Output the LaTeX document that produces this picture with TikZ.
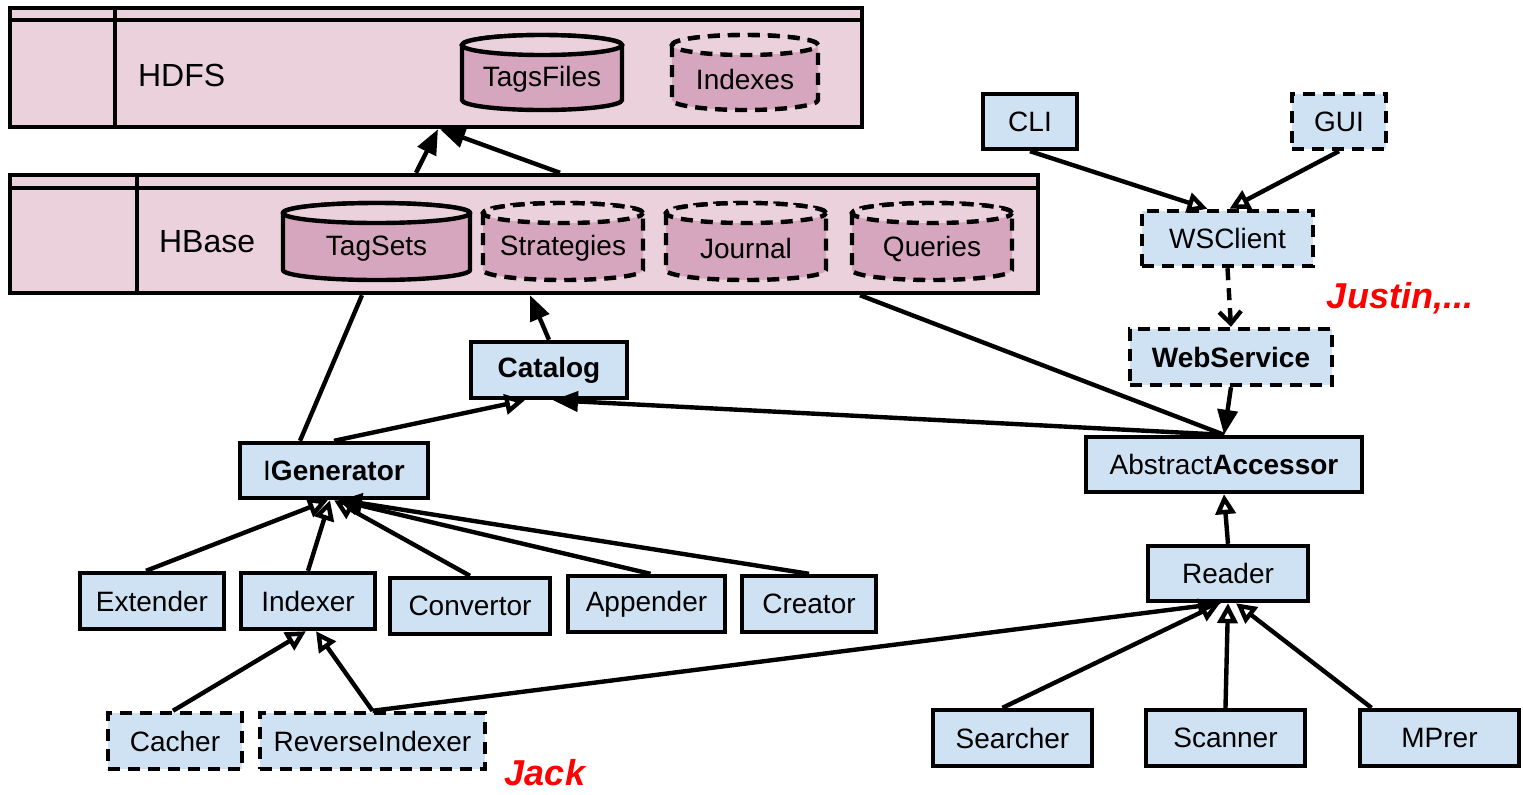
\documentclass[tikz,border=0pt]{standalone}
\usepackage{fontspec}
\setmainfont{Liberation Sans}
\usetikzlibrary{arrows.meta}

\definecolor{layerpink}{HTML}{EAD1DC}
\definecolor{storepink}{HTML}{D5A6BD}
\definecolor{clsblue}{HTML}{CFE2F3}

\tikzset{
  cls/.style={draw, line width=2.2pt, fill=clsblue, inner sep=0pt, font=\fontsize{14}{16}\selectfont},
  dsh/.style={dash pattern=on 6pt off 4pt},
  clsdash/.style={cls, dsh},
  layer/.style={draw, line width=2.2pt, fill=layerpink, inner sep=0pt},
  store/.style={draw, line width=2.2pt, fill=storepink},
  conn/.style={line width=2.2pt},
  inherit/.style={conn, -{Triangle[open, length=10pt, width=10pt]}},
  uses/.style={conn, -{Triangle[length=12.5pt, width=10pt]}},
  note/.style={text=red, font=\fontsize{18}{20}\selectfont\bfseries\itshape}
}

\begin{document}
\begin{tikzpicture}[x=0.5pt, y=-0.5pt]
\useasboundingbox (0,0) rectangle (1523,794);

% storage layers
\node[layer, minimum width=426pt, minimum height=59.5pt] (hdfs) at (436,67.5) {};
\node[layer, minimum width=514pt, minimum height=59pt] (hbase) at (524,234) {};
\draw[conn] ([yshift=-7pt]hdfs.north west) -- ([yshift=-7pt]hdfs.north east);
\draw[conn] ([xshift=53.5pt]hdfs.north west) -- ([xshift=53.5pt]hdfs.south west);
\draw[conn] ([yshift=-7.5pt]hbase.north west) -- ([yshift=-7.5pt]hbase.north east);
\draw[conn] ([xshift=64.5pt]hbase.north west) -- ([xshift=64.5pt]hbase.south west);
\node[anchor=west, font=\fontsize{16}{18}\selectfont] (hdfslbl) at (131,75) {HDFS};
\node[anchor=west, font=\fontsize{16}{18}\selectfont] (hbaselbl) at (152,242) {HBase};

% tables and files
\foreach \nm/\xa/\xb/\ya/\yb/\ds/\txt in {tagsfiles/462/622/35/110/solid/TagsFiles,
    indexes/672/818/35/110/dsh/Indexes, tagsets/283/470/203/280/solid/TagSets,
    strategies/483/643/203/280/dsh/Strategies, journal/666/826/203/280/dsh/Journal,
    queries/852/1012/203/280/dsh/Queries} {
  \pgfmathsetmacro\rx{(\xb-\xa)/4}
  \pgfmathsetmacro\cx{(\xa+\xb)/2}
  \pgfmathsetmacro\cy{(\ya+\yb)/2+7}
  \draw[store, \ds] (\xa,\ya+10) -- (\xa,\yb-10)
    arc[start angle=180, end angle=360, x radius=\rx pt, y radius=5pt]
    -- (\xb,\ya+10)
    arc[start angle=0, end angle=180, x radius=\rx pt, y radius=5pt] -- cycle;
  \draw[store, fill=layerpink, \ds] (\cx,\ya+10) ellipse[x radius=\rx pt, y radius=5pt];
  \node[font=\fontsize{14}{16}\selectfont] (\nm) at (\cx,\cy) {\txt};
}

% classes
\node[cls, minimum width=78pt, minimum height=28pt] (catalog) at (549,370) {\textbf{Catalog}};
\node[cls, minimum width=94pt, minimum height=27.5pt] (igen) at (334,470.5) {I\textbf{Generator}};
\node[cls, minimum width=138pt, minimum height=27.5pt] (accessor) at (1224,464.5) {Abstract\textbf{Accessor}};
\node[cls, minimum width=47pt, minimum height=27.5pt] (cli) at (1030,121.5) {CLI};
\node[clsdash, minimum width=47pt, minimum height=27.5pt] (gui) at (1339,121.5) {GUI};
\node[clsdash, minimum width=85.5pt, minimum height=27.5pt] (wsclient) at (1227.5,238.5) {WSClient};
\node[clsdash, minimum width=101pt, minimum height=28pt] (websvc) at (1231,357) {\textbf{WebService}};
\node[cls, minimum width=80pt, minimum height=27.5pt] (reader) at (1228,573.5) {Reader};
\node[cls, minimum width=79.5pt, minimum height=28pt] (searcher) at (1012.5,738) {Searcher};
\node[cls, minimum width=79.5pt, minimum height=28pt] (scanner) at (1225.5,738) {Scanner};
\node[cls, minimum width=79.5pt, minimum height=28pt] (mprer) at (1439.5,738) {MPrer};
\node[cls, minimum width=72pt, minimum height=28pt] (extender) at (152,601) {Extender};
\node[cls, minimum width=67pt, minimum height=28pt] (indexer) at (308,601) {Indexer};
\node[cls, minimum width=80pt, minimum height=28pt] (convertor) at (470,606) {Convertor};
\node[cls, minimum width=78.5pt, minimum height=28pt] (appender) at (646.5,604) {Appender};
\node[cls, minimum width=67pt, minimum height=28pt] (creator) at (809,604) {Creator};
\node[clsdash, minimum width=67pt, minimum height=28pt] (cacher) at (175,741) {Cacher};
\node[clsdash, minimum width=112.5pt, minimum height=28pt] (revidx) at (372.5,741) {ReverseIndexer};

% who works on what
\node[note] (jack) at (545,773) {Jack};
\node[note] (justin) at (1400,298) {Justin,...};

% connectors
\draw[uses] ([xshift=-54pt]hbase.north) -- ([xshift=1pt]hdfs.south);
\draw[uses] ([xshift=18pt]hbase.north) -- ([xshift=2pt]hdfs.south);
\draw[uses] (catalog.north) -- ([xshift=3pt]hbase.south);
\draw[conn] ([xshift=-17pt]igen.north) -- ([xshift=-81pt]hbase.south);
\draw[conn] (accessor.north) -- ([xshift=168pt]hbase.south);
\draw[inherit] (igen.north) -- ([xshift=-12pt]catalog.south);
\draw[uses] (accessor.north) -- ([xshift=2pt]catalog.south);

\draw[inherit] (cli.south) -- ([xshift=-10pt]wsclient.north);
\draw[inherit] (gui.south) -- ([xshift=1pt]wsclient.north);
\draw[conn, dsh, -{Straight Barb[length=6pt, width=11pt]}] (wsclient.south) -- (websvc.north);
\draw[uses] (websvc.south) -- (accessor.north);
\draw[inherit] (reader.north) -- (accessor.south);

\draw[inherit] ([xshift=-5pt]searcher.north) -- ([xshift=-4pt]reader.south);
\draw[inherit] (scanner.north) -- (reader.south);
\draw[inherit] ([xshift=-34pt]mprer.north) -- ([xshift=4pt]reader.south);
\draw[conn, -{Triangle[length=12pt, width=7pt]}] (revidx.north) -- ([xshift=-3pt]reader.south);

\draw[inherit] (revidx.north) -- ([xshift=4pt]indexer.south);
\draw[inherit] ([xshift=-1pt]cacher.north) -- ([xshift=-1pt]indexer.south);

\foreach \src/\sx/\tx in {extender/-3/-3, indexer/0/-2, convertor/0/0, appender/2/2, creator/0/4}
  \draw[inherit] ([xshift=\sx pt]\src.north) -- ([xshift=\tx pt]igen.south);

\end{tikzpicture}
\end{document}
